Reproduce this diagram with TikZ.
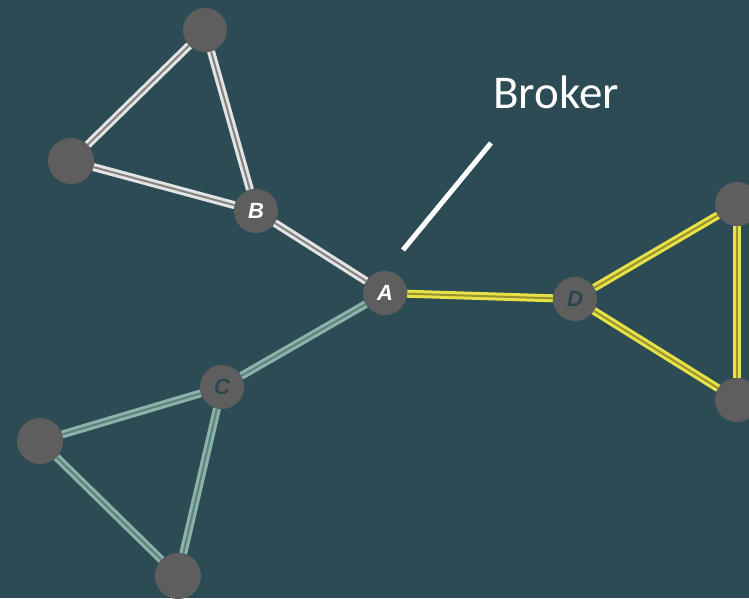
\documentclass[tikz,border=0pt]{standalone}
\usepackage{fontspec}
\setmainfont{Carlito}
\setsansfont{Liberation Sans}
\definecolor{bg}{RGB}{44,75,84}
\definecolor{knot}{RGB}{95,94,94}
\definecolor{greyout}{RGB}{228,228,228}
\definecolor{greyin}{RGB}{130,130,130}
\definecolor{tealout}{RGB}{140,178,170}
\definecolor{tealin}{RGB}{92,130,125}
\definecolor{yelout}{RGB}{232,226,70}
\definecolor{yelin}{RGB}{150,146,50}
\definecolor{labdark}{RGB}{40,70,80}
\tikzset{
  knot/.style={circle,fill=knot,minimum size=44pt,inner sep=0pt,
    font=\sffamily\bfseries\itshape\fontsize{22}{22}\selectfont},
  greyedge/.style={draw=greyout,double=greyin,line width=3pt,double distance=2pt},
  tealedge/.style={draw=tealout,double=tealin,line width=3pt,double distance=2pt},
  yeledge/.style={draw=yelout,double=yelin,line width=3pt,double distance=2pt}
}
\begin{document}
\begin{tikzpicture}[x=1pt,y=-1pt]
  \fill[bg] (0,0) rectangle (749,598);
  \useasboundingbox (0,0) rectangle (749,598);
  \clip (0,0) rectangle (749,598);
  \node[knot] (b1) at (205,30) {};
  \node[knot,minimum size=46pt] (b2) at (71,161) {};
  \node[knot,text=white] (b) at (256,211) {B};
  \node[knot,text=white] (a) at (385,293) {A};
  \node[knot,text=labdark] (c) at (222,387) {C};
  \node[knot,minimum size=46pt] (c1) at (40,441) {};
  \node[knot,minimum size=46pt] (c2) at (178,576) {};
  \node[knot,text=labdark] (d) at (575,299) {D};
  \node[knot] (d1) at (737,204) {};
  \node[knot] (d2) at (737,400) {};
  % grey cluster
  \draw[greyedge] (b1) -- (b2);
  \draw[greyedge] (b1) -- (b);
  \draw[greyedge] (b2) -- (b);
  \draw[greyedge] (b) -- (a);
  % teal cluster
  \draw[tealedge] (a) -- (c);
  \draw[tealedge] (c) -- (c1);
  \draw[tealedge] (c) -- (c2);
  \draw[tealedge] (c1) -- (c2);
  % yellow cluster
  \draw[yeledge] (a) -- (d);
  \draw[yeledge] (d) -- (d1);
  \draw[yeledge] (d) -- (d2);
  \draw[yeledge] (d1) -- (d2);
  % broker label
  \node[text=white,font=\fontsize{47}{47}\selectfont,anchor=base west,inner sep=0pt] (broker) at (493,108) {Broker};
  \coordinate (tip) at (403,250);
  \coordinate (tail) at (491,143);
  \draw[white,line width=5pt] (tip) -- (tail);
\end{tikzpicture}
\end{document}
